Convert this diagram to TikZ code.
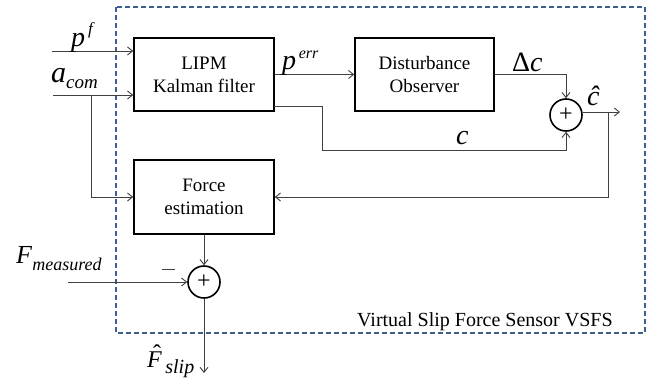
\documentclass[tikz,border=0pt]{standalone}
\usepackage{fontspec}
\setmainfont{Liberation Serif}
\usetikzlibrary{arrows.meta,calc}
\definecolor{dashblue}{HTML}{3D5F8F}
\definecolor{linegray}{HTML}{404040}
\newcommand\fs[1]{\fontsize{#1}{#1}\selectfont}
\newcommand\boxfont{\fontsize{19}{23}\selectfont}
\begin{document}
\begin{tikzpicture}[x=1pt,y=-1pt,
  blk/.style={draw=black,line width=1.6pt,minimum width=140pt,minimum height=73pt,align=center,font=\boxfont},
  sumc/.style={draw=black,circle,line width=1.6pt,minimum size=32pt,inner sep=0pt},
  arr/.style={draw=linegray,line width=0.9pt,-{Straight Barb[length=5pt,width=8pt]}},
  lbl/.style={inner sep=0pt,anchor=base west}]
\useasboundingbox (0,0) rectangle (663,383);
\draw[dashblue,dashed,line width=1.3pt,dash pattern=on 5pt off 3pt] (116,7) rectangle (645,333);
\node[blk] (lipm) at (204,74.5) {LIPM\\Kalman filter};
\node[blk,minimum width=139pt] (dob) at (424.5,74.5) {Disturbance\\Observer};
\node[blk,minimum height=74pt] (fe) at (204,197) {Force\\estimation};
\node[sumc] (s1) at (566,115) {\fs{24}\raisebox{1pt}{+}};
\node[sumc] (s2) at (204,282) {\fs{24}\raisebox{1pt}{+}};
% inputs
\coordinate (pf) at (52,51);
\coordinate (ac) at (53,95);
\coordinate (acb) at (91,95);
\draw[arr] (pf) -- (pf -| lipm.west);
\draw[arr] (ac) -- (ac -| lipm.west);
\draw[arr] (acb) |- (fe.west);
\draw[arr] (lipm.east) -- (dob.west);
\draw[arr] (dob.east) -| (s1.north);
\coordinate (lo) at (274,106);
\coordinate (lc) at (322,150);
\draw[arr] (lo) -| (lc) -| (s1.south);
\coordinate (out) at (620,112);
\coordinate (br) at (608,112);
\draw[arr] (s1.east |- out) -- (out);
\draw[arr] (br) |- (fe.east);
\draw[arr] (fe.south) -- (s2.north);
\coordinate (fm) at (68,282);
\draw[arr] (fm) -- (s2.west);
\coordinate (fsl) at (204,373);
\draw[arr] (s2.south) -- (fsl);
% labels
\node[lbl] (lpf) at (71,46) {\fs{28}\textit{p}\raisebox{12pt}{\fs{17}\,\textit{f}}};
\node[lbl] (lac) at (51,82) {\fs{30}\textit{a}\raisebox{-6pt}{\fs{19}\textit{com}}};
\node[lbl] (lpe) at (282,69) {\fs{28}\textit{p}\raisebox{11pt}{\fs{16}\,\textit{err}}};
\node[lbl] (ldc) at (512,71) {\fs{28}Δ\textit{c}};
\node[lbl] (lch) at (587,105) {\fs{28}\textit{ĉ}};
\node[lbl] (lc) at (456,144) {\fs{28}\textit{c}};
\node[lbl] (lfm) at (16,263) {\fs{26}\textit{F}\raisebox{-7pt}{\fs{18}\textit{measured}}};
\node[lbl] (lmin) at (162,270) {\color{linegray}\rule{13pt}{1.2pt}};
\node[lbl] (lfs) at (147,367) {\fs{24}\makebox[0pt][l]{\raisebox{6pt}{\hspace{6pt}\fs{24}ˆ}}\textit{F}\raisebox{-6pt}{\fs{20}\,\textit{slip}}};
\node[lbl] (lvs) at (357,326) {\fs{20}Virtual Slip Force Sensor VSFS};
\end{tikzpicture}
\end{document}
